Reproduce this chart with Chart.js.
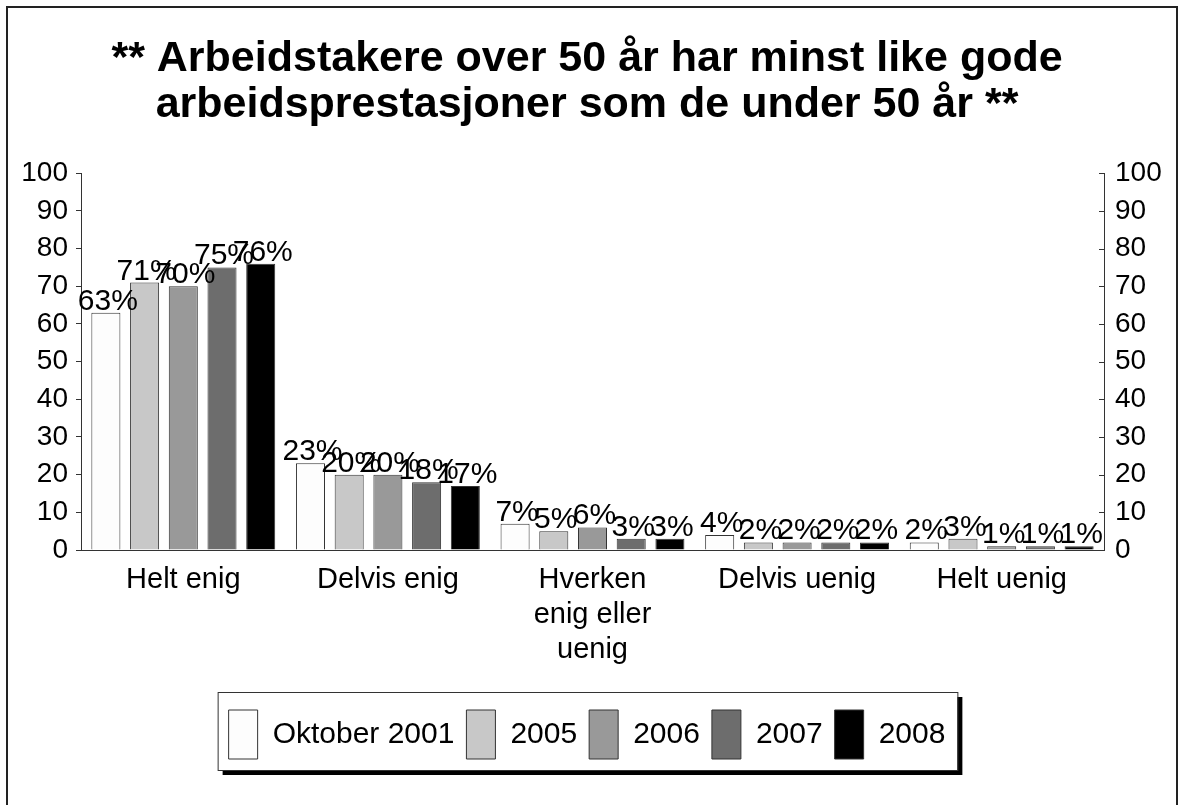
<!DOCTYPE html>
<html>
<head>
<meta charset="utf-8">
<script src="https://cdn.jsdelivr.net/npm/chart.js@4/dist/chart.umd.min.js"></script>
<style>
  body { margin: 0; background: #fff; }
  #wrap { width: 1179px; height: 805px; }
</style>
</head>
<body>
<div id="wrap"><canvas id="grafico" width="1179" height="805"></canvas></div>
<script>
const kategorier = ['Helt enig', 'Delvis enig', ['Hverken', 'enig eller', 'uenig'], 'Delvis uenig', 'Helt uenig']
const serier = ['Oktober 2001', '2005', '2006', '2007', '2008']
const okt2001 = [63, 23, 7, 4, 2]
const aar2005 = [71, 20, 5, 2, 3]
const aar2006 = [70, 20, 6, 2, 1]
const aar2007 = [75, 18, 3, 2, 1]
const aar2008 = [76, 17, 3, 2, 1]
const yTicks = [0, 10, 20, 30, 40, 50, 60, 70, 80, 90, 100]

const farger = ['#fdfdfd', '#c8c8c8', '#999999', '#6d6d6d', '#000000']
const verdier = [okt2001, aar2005, aar2006, aar2007, aar2008]
const font = 'Liberation Sans, Arial, sans-serif'

// hvit bakgrunn, ramme rundt alt og ramme med skygge rundt legenden
const bakgrunn = {
    id: 'bakgrunn',
    beforeDraw(chart) {
        const ctx = chart.ctx
        ctx.save()
        ctx.fillStyle = '#fff'
        ctx.fillRect(0, 0, chart.width, chart.height)
        ctx.strokeStyle = '#222'
        ctx.lineWidth = 2
        ctx.strokeRect(7, 7, 1170, 820)

        const boxes = chart.legend.legendHitBoxes
        if (boxes && boxes.length) {
            const first = boxes[0]
            const last = boxes[boxes.length - 1]
            const x1 = first.left - 11
            const x2 = last.left + last.width + 12
            const y1 = first.top - 18
            const y2 = first.top + first.height + 11
            ctx.fillStyle = '#000'
            ctx.fillRect(x1 + 5, y1 + 5, x2 - x1, y2 - y1)
            ctx.fillStyle = '#fff'
            ctx.fillRect(x1, y1, x2 - x1, y2 - y1)
            ctx.strokeStyle = '#333'
            ctx.lineWidth = 1
            ctx.strokeRect(x1 + 0.5, y1 + 0.5, x2 - x1, y2 - y1)
        }
        ctx.restore()
    }
}

// prosent-etiketter over stolpene og innoverpekende tikk på høyre akse
const etiketter = {
    id: 'etiketter',
    afterDatasetsDraw(chart) {
        const ctx = chart.ctx
        ctx.save()
        ctx.font = '30px ' + font
        ctx.fillStyle = '#000'
        ctx.textAlign = 'center'
        ctx.textBaseline = 'alphabetic'
        chart.data.datasets.forEach((ds, i) => {
            chart.getDatasetMeta(i).data.forEach((bar, j) => {
                ctx.fillText(ds.data[j] + '%', bar.x + 2, bar.y - 3)
            })
        })
        const y2 = chart.scales.y2
        ctx.strokeStyle = '#333'
        ctx.lineWidth = 1
        yTicks.forEach(v => {
            const y = Math.round(y2.getPixelForValue(v)) + 0.5
            ctx.beginPath()
            ctx.moveTo(y2.left - 5, y)
            ctx.lineTo(y2.left, y)
            ctx.stroke()
        })
        ctx.restore()
    }
}

new Chart(document.getElementById('grafico'), {
    type: 'bar',
    data: {
        labels: kategorier,
        datasets: serier.map((navn, i) => ({
            label: navn,
            data: verdier[i],
            backgroundColor: farger[i],
            borderColor: '#333',
            borderWidth: 1,
            categoryPercentage: 0.946,
            barPercentage: 0.75
        }))
    },
    options: {
        responsive: false,
        animation: false,
        layout: { padding: { left: 10, right: 15, top: 0, bottom: 36 } },
        scales: {
            x: {
                grid: { display: false, drawTicks: false },
                border: { display: true, color: '#333', width: 1 },
                ticks: { color: '#000', padding: 13, maxRotation: 0, autoSkip: false, font: { family: font, size: 29, lineHeight: 1.2 } },
                afterFit(scale) { scale.height = 148 }
            },
            y: {
                min: 0, max: 100,
                grid: { display: true, drawOnChartArea: false, drawTicks: true, tickLength: 5, color: '#333' },
                border: { display: true, color: '#333', width: 1 },
                ticks: { stepSize: 10, color: '#000', padding: 8, font: { family: font, size: 28 } },
                afterFit(scale) { scale.width = 71 }
            },
            y2: {
                position: 'right',
                min: 0, max: 100,
                grid: { display: false, drawTicks: false },
                border: { display: true, color: '#333', width: 1 },
                ticks: { stepSize: 10, color: '#000', padding: 11, font: { family: font, size: 28 } },
                afterFit(scale) { scale.width = 60 }
            }
        },
        plugins: {
            title: {
                display: true,
                text: ['** Arbeidstakere over 50 år har minst like gode', 'arbeidsprestasjoner som de under 50 år **'],
                color: '#000',
                font: { family: font, size: 43, weight: 'bold', lineHeight: 1.05 },
                padding: { top: 37, bottom: 46 }
            },
            legend: {
                position: 'bottom',
                labels: {
                    color: '#000',
                    boxWidth: 29,
                    boxHeight: 49,
                    padding: 12,
                    font: { family: font, size: 30 }
                }
            },
            tooltip: { enabled: false }
        }
    },
    plugins: [bakgrunn, etiketter]
})
</script>
</body>
</html>
